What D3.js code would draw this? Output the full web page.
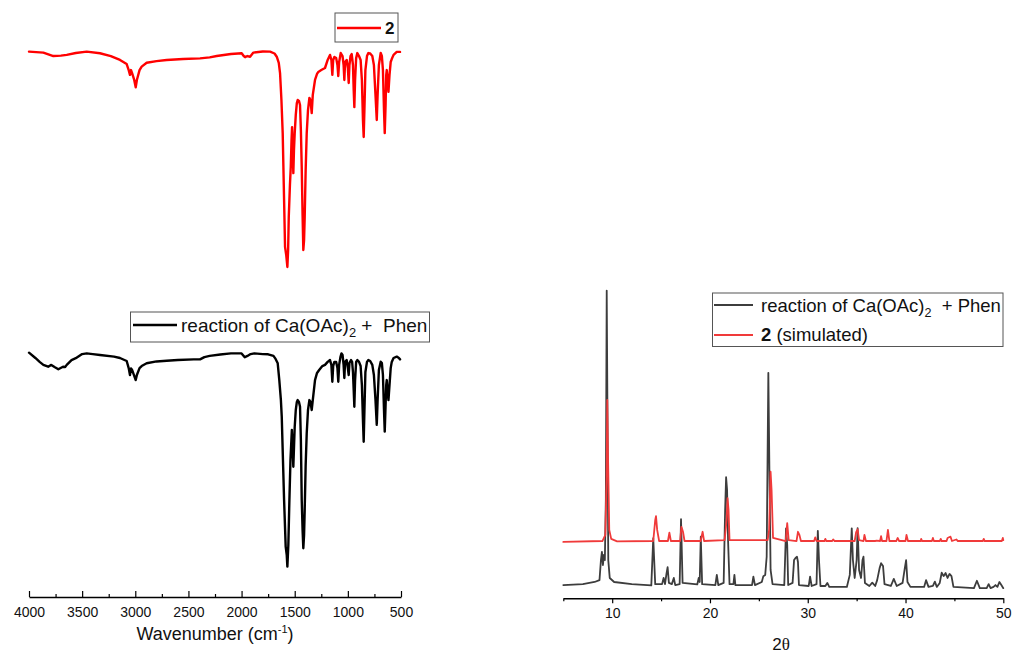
<!DOCTYPE html>
<html>
<head>
<meta charset="utf-8">
<script src="https://cdn.jsdelivr.net/npm/d3@7"></script>
<style>
  html, body { margin: 0; padding: 0; background: #fff; }
  svg { display: block; font-family: "Liberation Sans", Arial, sans-serif; }
</style>
</head>
<body>
<svg id="chart" width="1016" height="655"></svg>
<script>
// ---------- IR spectra: [wavenumber (cm-1), transmittance (a.u.)] ----------
const irCompound2 = [
  [4000,97.1],[3865,96.7],[3771,95.2],[3700,95.4],[3645,95.7],[3560,96.5],[3457,97.1],[3332,96.4],
  [3230,95.2],[3144,93.5],[3081,91.7],[3062,89.1],[3050,87.0],[3040,89.1],[3030,87.8],[3010,84.8],
  [2996,81.6],[2985,84.8],[2960,89.1],[2940,90.6],[2893,92.3],[2800,93.0],[2705,93.5],[2550,93.9],
  [2391,94.2],[2300,94.6],[2234,95.2],[2100,96.1],[1999,96.4],[1980,95.2],[1967,94.7],[1945,95.2],
  [1920,94.9],[1889,96.7],[1800,97.2],[1732,97.1],[1690,96.3],[1669,94.9],[1650,92.2],[1638,87.8],
  [1625,76.1],[1613,61.7],[1600,32.6],[1591,12.2],[1580,8.7],[1569,3.5],[1562,10.9],[1556,25.2],
  [1545,39.1],[1537,47.0],[1530,58.7],[1525,64.3],[1519,54.3],[1513,44.3],[1507,54.3],[1500,61.7],
  [1490,69.6],[1480,74.8],[1472,76.1],[1460,75.7],[1450,73.9],[1442,63.0],[1434,47.0],[1426,26.1],
  [1419,10.9],[1412,15.2],[1406,25.2],[1397,45.7],[1387,61.7],[1375,71.7],[1362,77.0],[1352,76.1],
  [1340,70.4],[1330,78.3],[1309,84.8],[1290,87.4],[1278,88.3],[1250,89.1],[1215,90.0],[1190,93.5],
  [1168,95.7],[1155,93.5],[1146,87.0],[1138,93.5],[1127,94.8],[1110,94.3],[1098,91.3],[1090,86.5],
  [1082,92.6],[1067,96.5],[1050,95.2],[1040,91.3],[1033,84.8],[1026,92.6],[1011,93.5],[1000,90.0],
  [992,83.5],[985,91.3],[975,95.2],[964,96.1],[952,91.3],[945,80.4],[939,73.0],[932,84.8],
  [922,94.3],[911,96.5],[895,95.2],[880,93.5],[868,84.8],[858,67.4],[851,60.0],[844,72.2],
  [835,89.1],[820,95.2],[807,96.5],[790,96.3],[770,95.2],[755,91.3],[740,78.3],[728,67.4],
  [720,78.3],[708,91.3],[691,96.5],[680,95.2],[670,89.1],[660,71.7],[653,61.7],[645,73.9],
  [639,87.0],[634,89.1],[626,84.8],[618,79.6],[608,87.0],[597,92.6],[587,93.9],[570,95.7],
  [540,97.0],[509,97.0]
];

const irReactionMix = [
  [4000,101.0],[3940,98.7],[3900,97.0],[3865,95.7],[3820,94.9],[3790,95.7],[3760,94.8],[3724,93.8],
  [3680,94.9],[3660,94.8],[3645,95.7],[3600,97.8],[3560,98.6],[3500,100.4],[3457,100.7],[3400,100.4],
  [3332,100.0],[3200,99.3],[3144,98.7],[3081,97.4],[3062,94.3],[3050,91.3],[3040,94.2],[3030,93.5],
  [3010,90.9],[2996,89.1],[2985,91.3],[2960,94.3],[2940,95.2],[2893,96.4],[2800,97.2],[2705,97.5],
  [2600,97.8],[2450,98.1],[2391,98.1],[2350,99.1],[2300,99.6],[2200,100.2],[2100,100.7],[2000,100.7],
  [1970,99.0],[1945,99.6],[1915,100.4],[1880,100.7],[1800,100.4],[1750,100.3],[1700,99.6],[1680,98.3],
  [1660,96.4],[1645,89.1],[1630,80.4],[1622,73.2],[1600,37.0],[1585,16.7],[1575,13.0],[1569,8.0],
  [1560,17.4],[1550,37.0],[1540,54.3],[1527,67.4],[1519,58.7],[1513,51.4],[1506,60.9],[1500,68.8],
  [1490,76.1],[1480,79.6],[1472,80.4],[1460,79.6],[1450,77.5],[1442,63.0],[1434,37.0],[1426,23.9],
  [1419,16.0],[1412,21.7],[1406,32.6],[1397,52.2],[1387,66.0],[1375,76.1],[1362,80.4],[1352,79.6],
  [1340,76.1],[1330,80.4],[1309,89.1],[1290,92.2],[1270,93.5],[1240,95.2],[1215,95.7],[1190,97.0],
  [1168,97.8],[1155,95.7],[1146,88.4],[1138,95.2],[1127,97.0],[1110,97.0],[1098,94.3],[1090,88.4],
  [1082,95.7],[1070,99.1],[1060,100.7],[1050,100.0],[1040,95.7],[1033,90.0],[1026,97.0],[1011,97.8],
  [1000,94.3],[992,91.3],[985,96.5],[970,97.8],[960,97.0],[952,92.6],[945,84.8],[939,77.5],
  [932,89.1],[922,97.0],[911,97.8],[895,97.0],[880,95.2],[868,87.0],[858,71.7],[851,62.3],
  [844,76.1],[835,92.6],[820,97.0],[807,97.8],[790,97.4],[770,95.7],[755,91.3],[740,80.4],
  [728,69.6],[720,80.4],[708,93.5],[691,97.1],[680,96.5],[670,91.3],[660,76.1],[653,66.7],
  [645,78.3],[639,87.0],[634,89.1],[626,83.9],[618,80.4],[608,87.0],[597,94.3],[587,97.0],
  [570,98.7],[540,99.3],[520,98.7],[509,98.1]
];

// ---------- PXRD patterns: [2θ (deg), intensity (a.u.)] ----------
const xrdExperimental = [
  [5,42],[7,45],[8.2,52],[8.7,58],[8.85,123],[8.95,150],[9.05,107],[9.15,140],[9.25,123],[9.35,318],
  [9.44,998],[9.52,578],[9.6,123],[9.75,65],[10.2,52],[12,45],[14.0,41],[14.2,194],[14.4,45],[15.1,45],
  [15.26,65],[15.4,45],[15.55,78],[15.67,100],[15.8,49],[16.1,45],[16.3,65],[16.45,42],[16.9,45],[17.04,256],
  [17.2,49],[18.7,44],[18.85,65],[18.95,52],[19.06,199],[19.2,45],[20.55,42],[20.7,75],[20.85,42],[21.4,49],
  [21.55,286],[21.65,392],[21.75,351],[21.85,188],[22.0,45],[22.4,45],[22.5,75],[22.6,42],[24.3,42],[24.44,69],
  [24.6,42],[25.3,52],[25.46,71],[25.65,75],[25.8,134],[25.97,731],[26.08,416],[26.2,91],[26.4,45],[27.6,42],
  [27.78,226],[27.9,172],[28.0,42],[28.45,49],[28.6,123],[28.75,130],[28.9,134],[29.0,117],[29.1,42],[30.1,39],
  [30.24,69],[30.4,39],[30.9,45],[31.03,218],[31.15,123],[31.3,39],[31.8,39],[32.0,49],[32.2,36],[34.0,36],
  [34.3,75],[34.5,226],[34.62,123],[34.8,65],[35.0,123],[35.1,227],[35.25,91],[35.45,65],[35.6,123],[35.7,134],
  [35.85,49],[36.3,39],[36.6,50],[36.9,39],[37.1,58],[37.35,97],[37.5,113],[37.7,104],[37.85,45],[38.5,39],
  [38.8,62],[39.1,39],[39.7,49],[39.9,91],[40.06,123],[40.2,52],[40.5,36],[41.9,36],[42.1,58],[42.35,36],
  [42.8,39],[43.0,53],[43.2,36],[43.5,49],[43.7,82],[43.9,71],[44.1,81],[44.3,65],[44.5,78],[44.7,71],
  [44.9,36],[47.0,32],[47.3,56],[47.6,32],[48.3,32],[48.5,45],[48.7,32],[49.0,36],[49.2,42],[49.4,36],
  [49.6,52],[49.8,42],[50,32]
];

const xrdSimulated = [
  [5,0],[9.0,3],[9.3,23],[9.42,201],[9.5,461],[9.58,266],[9.7,39],[9.9,10],[10.5,2],[14.2,3],
  [14.4,71],[14.48,84],[14.6,39],[14.8,3],[15.7,3],[15.85,30],[16.0,3],[16.95,3],[17.08,49],[17.25,32],
  [17.4,3],[19.05,3],[19.25,33],[19.4,3],[21.5,6],[21.7,71],[21.8,142],[21.9,104],[22.0,6],[25.9,6],
  [26.05,39],[26.2,228],[26.3,169],[26.45,13],[27.75,3],[27.9,61],[28.05,6],[28.85,3],[29.0,33],[29.15,23],
  [29.3,3],[30.65,3],[30.77,15],[30.9,3],[31.7,3],[31.8,10],[31.9,3],[32.5,3],[32.6,8],[32.75,3],
  [34.8,3],[34.95,32],[35.1,41],[35.25,6],[35.7,3],[35.8,23],[35.95,3],[36.9,3],[37.0,4],[37.4,3],
  [37.5,19],[37.6,3],[38.05,3],[38.2,39],[38.35,3],[39.05,3],[39.2,13],[39.35,3],[40.0,3],[40.1,23],
  [40.25,3],[41.55,3],[41.6,10],[41.7,3],[42.7,3],[42.8,13],[42.9,3],[43.5,3],[43.6,10],[43.7,3],
  [44.2,3],[44.3,13],[44.5,16],[44.6,17],[44.75,3],[45.2,8],[45.35,3],[47.9,3],[48.0,10],[48.1,3],
  [49.85,3],[49.95,13],[50,6]
];

// vertical stacking offset of the simulated pattern (a.u.)
const simulatedOffset = 182;

// ---------- tick values ----------
const irMajorTicks = [4000, 3500, 3000, 2500, 2000, 1500, 1000, 500];
const irMinorTicks = [3750, 3250, 2750, 2250, 1750, 1250, 750];
const xrdMajorTicks = [10, 20, 30, 40, 50];
const xrdMinorTicks = [5, 15, 25, 35, 45];

// ---------- drawing ----------
const svg = d3.select("#chart");

const xIR = d3.scaleLinear().domain([4000, 500]).range([29, 401]);
const yIRTop = d3.scaleLinear().domain([0, 100]).range([275, 45]);
const yIRBottom = d3.scaleLinear().domain([0, 100]).range([585, 355]);

const x2t = d3.scaleLinear().domain([5, 50]).range([563.3, 1003.3]);
const yXRD = d3.scaleLinear().domain([0, 1000]).range([598, 290]);

const COLOR_IR2 = "#ff0000";
const COLOR_IRMIX = "#000000";
const COLOR_XEXP = "#3d3d3d";
const COLOR_XSIM = "#f03a3a";
const NBSP = "\u00A0";

function drawLine(data, x, y, color, width, dy = 0) {
  svg.append("path")
    .datum(data)
    .attr("fill", "none")
    .attr("stroke", color)
    .attr("stroke-width", width)
    .attr("stroke-linejoin", "round")
    .attr("stroke-linecap", "round")
    .attr("d", d3.line().x(d => x(d[0])).y(d => y(d[1] + dy)));
}

// IR traces
drawLine(irCompound2, xIR, yIRTop, COLOR_IR2, 2.4);
drawLine(irReactionMix, xIR, yIRBottom, COLOR_IRMIX, 2.4);

// PXRD traces
drawLine(xrdExperimental, x2t, yXRD, COLOR_XEXP, 1.8);
drawLine(xrdSimulated, x2t, yXRD, COLOR_XSIM, 1.8, simulatedOffset);

// IR wavenumber axis (ticks pointing inward)
const irAxisY = 597;
const irAxisG = svg.append("g").attr("transform", `translate(0,${irAxisY})`);
irAxisG.call(d3.axisBottom(xIR).tickValues(irMajorTicks).tickSizeInner(-6).tickSizeOuter(0)
  .tickPadding(10).tickFormat(d3.format("d")));
irAxisG.append("g").call(d3.axisBottom(xIR).tickValues(irMinorTicks).tickSizeInner(-3)
  .tickSizeOuter(0).tickFormat(""))
  .select(".domain").remove();

// PXRD 2θ axis (ticks pointing outward)
const xrdAxisY = 598.3;
const xrdAxisG = svg.append("g").attr("transform", `translate(0,${xrdAxisY})`);
xrdAxisG.call(d3.axisBottom(x2t).tickValues(xrdMajorTicks).tickSizeInner(5).tickSizeOuter(0)
  .tickPadding(5).tickFormat(d3.format("d")));
xrdAxisG.append("g").call(d3.axisBottom(x2t).tickValues(xrdMinorTicks).tickSizeInner(3)
  .tickSizeOuter(0).tickFormat(""))
  .select(".domain").remove();

svg.selectAll(".domain").attr("stroke", "#000").attr("stroke-width", 1.4);
svg.selectAll(".tick line").attr("stroke", "#000").attr("stroke-width", 1.2);
svg.selectAll(".tick text").attr("font-size", 14).attr("fill", "#111")
  .attr("font-family", "'Liberation Sans', Arial, sans-serif");

// axis titles
const irTitle = svg.append("text")
  .attr("x", 215).attr("y", 640)
  .attr("text-anchor", "middle")
  .attr("font-size", 18).attr("fill", "#111");
irTitle.append("tspan").text("Wavenumber (cm");
irTitle.append("tspan").attr("dy", -7).attr("font-size", 11).text("-1");
irTitle.append("tspan").attr("dy", 7).text(")");

const thetaTitle = svg.append("text")
  .attr("x", 781).attr("y", 650)
  .attr("text-anchor", "middle")
  .attr("font-size", 17).attr("fill", "#111");
thetaTitle.append("tspan").text("2");
thetaTitle.append("tspan").attr("font-family", "'Liberation Serif', 'DejaVu Serif', serif").text("θ");

// ---------- legends ----------
function legendBox(x, y, w, h) {
  svg.append("rect").attr("x", x).attr("y", y).attr("width", w).attr("height", h)
    .attr("fill", "#fff").attr("stroke", "#555").attr("stroke-width", 1);
}
function legendLine(x1, x2, y, color, width) {
  svg.append("line").attr("x1", x1).attr("x2", x2).attr("y1", y).attr("y2", y)
    .attr("stroke", color).attr("stroke-width", width);
}
function reactionLabel(x, y, size, tail) {
  const t = svg.append("text").attr("x", x).attr("y", y).attr("font-size", size).attr("fill", "#111");
  t.append("tspan").text("reaction of Ca(OAc)");
  t.append("tspan").attr("dy", 5).attr("font-size", size * 0.68).text("2");
  t.append("tspan").attr("dy", -5).text(tail);
}

// legend of compound 2 IR
legendBox(335, 13, 63, 29);
legendLine(337, 381, 28, COLOR_IR2, 2.4);
svg.append("text").attr("x", 385).attr("y", 34).attr("font-size", 17)
  .attr("font-weight", "bold").attr("fill", "#111").text("2");

// legend of reaction mixture IR
legendBox(130.5, 312, 299, 30);
legendLine(133, 177, 325, COLOR_IRMIX, 2.4);
reactionLabel(181, 332, 19, NBSP + "+" + NBSP + NBSP + "Phen");

// legend of PXRD
legendBox(712.5, 293, 290.5, 53.5);
legendLine(714, 753, 305, COLOR_XEXP, 1.8);
legendLine(714, 753, 335, COLOR_XSIM, 1.8);
reactionLabel(761, 312, 18.5, NBSP + NBSP + "+" + NBSP + "Phen");
const simLabel = svg.append("text").attr("x", 761).attr("y", 341).attr("font-size", 18.5).attr("fill", "#111");
simLabel.append("tspan").attr("font-weight", "bold").text("2");
simLabel.append("tspan").text(NBSP + "(simulated)");
</script>
</body>
</html>
